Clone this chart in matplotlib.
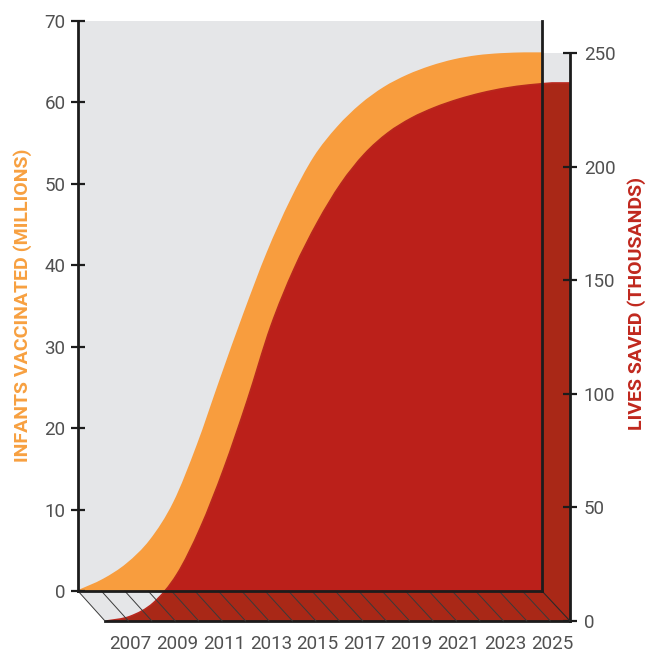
import matplotlib
matplotlib.use("Agg")
import matplotlib.pyplot as plt
from matplotlib.patches import Polygon, Rectangle, ConnectionPatch, PathPatch
from matplotlib.lines import Line2D
from matplotlib.path import Path
import numpy as np

# ---------------- data ----------------
years = [2006, 2007, 2008, 2009, 2010, 2011, 2012, 2013, 2014, 2015,
         2016, 2017, 2018, 2019, 2020, 2021, 2022, 2023, 2024, 2025]
infants_millions = [0.2, 1.5, 3.4, 6.3, 10.9, 17.9, 26.1, 34.1, 41.6, 48.0,
                    53.3, 57.0, 59.8, 61.9, 63.4, 64.5, 65.3, 65.8, 66.05, 66.15]
lives_saved_thousands = [0, 2, 8, 20.5, 41, 67, 97, 129.5, 155, 175.5,
                         192.5, 205.5, 214.8, 221.3, 226.0, 229.6, 232.4, 234.5, 235.9, 236.8]
xtick_years = [2007, 2009, 2011, 2013, 2015, 2017, 2019, 2021, 2023, 2025]
left_ticks = [0, 10, 20, 30, 40, 50, 60, 70]
right_ticks = [0, 50, 100, 150, 200, 250]
left_label = "INFANTS VACCINATED (MILLIONS)"
right_label = "LIVES SAVED (THOUSANDS)"

# ---------------- style ----------------
X0, X1 = 2005.93, 2025.77
GRAY = "#e5e6e8"
ORANGE = "#f89d3e"
RED = "#bb201a"
RED_DARK = "#a92817"
TEXT = "#505050"
LINE = "#1c1c1c"
FONT = "Roboto"

W, H = 657, 654
fig = plt.figure(figsize=(W / 100, H / 100), dpi=100)
fig.patch.set_facecolor("white")


def rect(l, t, r, b):
    return [l / W, 1 - b / H, (r - l) / W, (b - t) / H]


def smooth_paths(xs, ys, xend):
    """Area path and top-edge path drawn as smooth Bezier curves through the data points."""
    pts = np.column_stack([xs, ys]).astype(float)
    n = len(pts)
    curve_v = [tuple(pts[0])]
    curve_c = [Path.MOVETO]
    for i in range(n - 1):
        p0 = pts[max(i - 1, 0)]
        p1 = pts[i]
        p2 = pts[i + 1]
        p3 = pts[min(i + 2, n - 1)]
        c1 = p1 + (p2 - p0) / 6.0
        c2 = p2 - (p3 - p1) / 6.0
        curve_v += [tuple(c1), tuple(c2), tuple(p2)]
        curve_c += [Path.CURVE4] * 3
    curve_v.append((xend, ys[-1]))
    curve_c.append(Path.LINETO)
    area_v = [(xs[0], 0)] + curve_v + [(xend, 0), (xs[0], 0)]
    area_c = [Path.MOVETO, Path.LINETO] + curve_c[1:] + [Path.LINETO, Path.CLOSEPOLY]
    return Path(area_v, area_c), Path(curve_v, curve_c)


ax_back = fig.add_axes(rect(78, 21, 542, 591), zorder=1)
ax_front = fig.add_axes(rect(105, 53, 570, 621), zorder=3)

# ----- back plane (infants) -----
ax_back.set_facecolor(GRAY)
ax_back.set_xlim(X0, X1)
ax_back.set_ylim(0, 70)
for s in ["top", "right", "bottom"]:
    ax_back.spines[s].set_visible(False)
ax_back.spines["left"].set_linewidth(2)
ax_back.spines["left"].set_color(LINE)
ax_back.set_xticks([])
ax_back.set_yticks(left_ticks)
ax_back.tick_params(axis="y", direction="inout", length=10, width=1.6, color=LINE,
                    labelsize=13.5, labelcolor=TEXT, pad=4)
for lab in ax_back.get_yticklabels():
    lab.set_fontfamily(FONT)

orange_area, _ = smooth_paths(years, infants_millions, X1)
ax_back.add_patch(PathPatch(orange_area, facecolor=ORANGE, lw=0))

# ----- front plane (lives saved) -----
ax_front.set_facecolor("none")
ax_front.set_xlim(X0, X1)
ax_front.set_ylim(0, 250)
for s in ["top", "left"]:
    ax_front.spines[s].set_visible(False)
for s in ["right", "bottom"]:
    ax_front.spines[s].set_linewidth(2)
    ax_front.spines[s].set_color(LINE)
ax_front.yaxis.tick_right()
ax_front.set_yticks(right_ticks)
ax_front.tick_params(axis="y", direction="inout", length=10, width=1.6, color=LINE,
                     labelsize=13.5, labelcolor=TEXT, pad=5)
ax_front.set_xticks(xtick_years)
ax_front.set_xticklabels([str(y) for y in xtick_years])
ax_front.tick_params(axis="x", length=0, labelsize=13.5, labelcolor=TEXT, pad=10)
for lab in ax_front.get_yticklabels() + ax_front.get_xticklabels():
    lab.set_fontfamily(FONT)

# side wall (gray) between back right edge and front right edge
xb = ax_front.transData.inverted().transform(ax_back.transData.transform((X1, 0)))[0]
ax_front.add_patch(Rectangle((xb, 0), X1 - xb, 250, facecolor=GRAY, lw=0, zorder=0))

red_area, red_edge = smooth_paths(years, lives_saved_thousands, X1)
ax_front.add_patch(PathPatch(red_area, facecolor=RED_DARK, lw=0, zorder=1))
bright = PathPatch(red_area, facecolor=RED, lw=0, zorder=2)
ax_front.add_patch(bright)
bright.set_clip_path(ax_back.patch)
ax_front.add_patch(PathPatch(red_edge, facecolor="none", edgecolor="#b8281e", lw=1.2, zorder=2.5))

# floor (gray parallelogram) between the two planes
to_fig = fig.transFigure.inverted()
corners = [ax_back.transData.transform((X0, 0)), ax_back.transData.transform((X1, 0)),
           ax_front.transData.transform((X1, 0)), ax_front.transData.transform((X0, 0))]
floor = Polygon(to_fig.transform(np.array(corners)), closed=True, facecolor=GRAY,
                lw=0, transform=fig.transFigure, zorder=2)
fig.add_artist(floor)

# depth (hatch) lines on the floor
for k in range(20):
    x = X0 + k
    cp = ConnectionPatch(xyA=(x, 0), coordsA=ax_back.transData,
                         xyB=(x, 0), coordsB=ax_front.transData,
                         color="#3a3a3a", lw=0.7, zorder=4)
    fig.add_artist(cp)
cp = ConnectionPatch(xyA=(X1, 0), coordsA=ax_back.transData,
                     xyB=(X1, 0), coordsB=ax_front.transData,
                     color="#2a2a2a", lw=0.8, zorder=4)
fig.add_artist(cp)

# back plane right and bottom outlines drawn on top
fig.add_artist(Line2D([1, 1], [0, 1], transform=ax_back.transAxes, color=LINE, lw=2, zorder=4))
fig.add_artist(Line2D([0, 1], [0, 0], transform=ax_back.transAxes, color=LINE, lw=2, zorder=4))

# axis titles
fig.text(23 / W, 1 - 305 / H, left_label, rotation=90, ha="center", va="center",
         color="#f7a040", fontsize=14, fontweight="bold", family=FONT)
fig.text(637 / W, 1 - 303 / H, right_label, rotation=90, ha="center", va="center",
         color="#c0281e", fontsize=14, fontweight="bold", family=FONT)

fig.savefig("out.png", dpi=100)
